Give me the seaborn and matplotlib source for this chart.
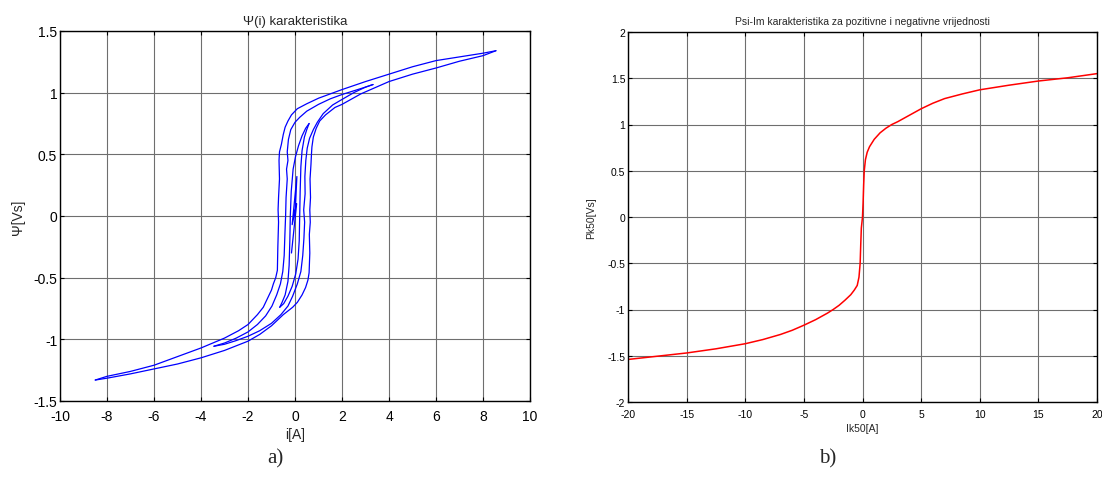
import numpy as np
import pandas as pd
import matplotlib
matplotlib.use("Agg")
import matplotlib.pyplot as plt
import seaborn as sns

# --- DATA: hysteresis loops (left panel) ---
# major loop, descending branch (upper/left)
major_desc_i = [8.55, 8.0, 7.0, 6.0, 5.0, 4.0, 3.0, 2.0, 1.5, 1.0, 0.5, 0.1, -0.15, -0.3, -0.42,
                -0.5, -0.58, -0.66, -0.68, -0.66, -0.70, -0.72, -0.70, -0.73, -0.75, -0.82, -0.92,
                -1.0, -1.15, -1.35, -1.6, -2.0, -2.4, -3.0, -4.0, -5.0, -6.0, -7.0, -8.0, -8.5]
major_desc_psi = [1.34, 1.32, 1.29, 1.26, 1.21, 1.15, 1.09, 1.025, 0.99, 0.955, 0.91, 0.87, 0.82,
                  0.77, 0.72, 0.66, 0.58, 0.52, 0.45, 0.30, 0.15, 0.05, -0.05, -0.25, -0.44, -0.50,
                  -0.55, -0.60, -0.66, -0.74, -0.80, -0.88, -0.93, -0.99, -1.07, -1.14, -1.21,
                  -1.26, -1.30, -1.33]
# major loop, ascending branch (lower/right)
major_asc_i = [-8.5, -8.0, -7.0, -6.0, -5.0, -4.0, -3.0, -2.0, -1.5, -1.0, -0.5, -0.1, 0.1, 0.3,
               0.45, 0.55, 0.6, 0.63, 0.61, 0.65, 0.63, 0.66, 0.64, 0.68, 0.70, 0.72, 0.78, 0.90,
               1.05, 1.3, 1.7, 2.0, 2.8, 4.0, 5.0, 6.0, 7.0, 8.0, 8.55]
major_asc_psi = [-1.33, -1.315, -1.28, -1.24, -1.20, -1.15, -1.09, -1.015, -0.96, -0.89, -0.80,
                 -0.74, -0.70, -0.64, -0.58, -0.52, -0.46, -0.30, -0.15, -0.05, 0.05, 0.15, 0.30,
                 0.42, 0.50, 0.56, 0.64, 0.71, 0.77, 0.82, 0.88, 0.905, 0.99, 1.09, 1.15, 1.20,
                 1.255, 1.30, 1.34]
# middle loop
mid_desc_i = [3.32, 3.0, 2.5, 2.0, 1.5, 1.0, 0.5, 0.2, 0.0, -0.18, -0.28, -0.33, -0.30, -0.36,
              -0.33, -0.38, -0.40, -0.43, -0.46, -0.52, -0.62, -0.78, -0.98, -1.25, -1.6, -2.0,
              -2.5, -3.0, -3.45]
mid_desc_psi = [1.066, 1.045, 1.015, 0.985, 0.95, 0.905, 0.85, 0.80, 0.76, 0.70, 0.62, 0.52,
                0.45, 0.38, 0.30, 0.15, 0.0, -0.15, -0.32, -0.45, -0.55, -0.64, -0.73, -0.81,
                -0.88, -0.94, -0.99, -1.03, -1.056]
mid_asc_i = [-3.45, -3.0, -2.5, -2.0, -1.5, -1.0, -0.6, -0.3, -0.1, 0.1, 0.25, 0.33, 0.38, 0.41,
             0.37, 0.43, 0.42, 0.46, 0.52, 0.62, 0.78, 0.95, 1.2, 1.6, 2.0, 2.5, 3.0, 3.32]
mid_asc_psi = [-1.056, -1.04, -1.01, -0.975, -0.93, -0.87, -0.80, -0.73, -0.65, -0.55, -0.45,
               -0.32, -0.18, -0.05, 0.05, 0.18, 0.32, 0.45, 0.55, 0.63, 0.70, 0.76, 0.83, 0.90,
               0.945, 1.0, 1.045, 1.066]
# inner loop
inner_desc_i = [0.6, 0.45, 0.3, 0.15, 0.02, -0.08, -0.16, -0.2, -0.22, -0.25, -0.3, -0.42, -0.55, -0.65]
inner_desc_psi = [0.75, 0.71, 0.65, 0.57, 0.48, 0.38, 0.2, 0.0, -0.2, -0.4, -0.53, -0.64, -0.70, -0.74]
inner_asc_i = [-0.65, -0.48, -0.3, -0.12, 0.03, 0.13, 0.18, 0.2, 0.22, 0.25, 0.3, 0.4, 0.5, 0.6]
inner_asc_psi = [-0.74, -0.71, -0.65, -0.57, -0.47, -0.35, -0.2, 0.0, 0.2, 0.4, 0.53, 0.64, 0.70, 0.75]
# small spike in the middle
spike_i = [0.0, 0.08, -0.12, 0.07, -0.15]
spike_psi = [0.0, 0.32, -0.07, 0.10, -0.30]

# --- DATA: Psi-Im characteristic (right panel) ---
ik50 = [-20, -17.5, -15, -12.5, -10, -8.5, -7, -6, -5, -4, -3, -2.5, -2, -1.5, -1.0, -0.7, -0.45,
        -0.3, -0.2, -0.15, -0.1, 0.0, 0.05, 0.1, 0.15, 0.25, 0.4, 0.6, 1.0, 1.5, 2.0, 2.5, 3.0,
        4.0, 5.0, 6.0, 7.0, 8.5, 10, 12.5, 15, 17.5, 20]
pk50 = [-1.54, -1.505, -1.47, -1.425, -1.37, -1.325, -1.27, -1.225, -1.17, -1.11, -1.04, -1.0,
        -0.955, -0.9, -0.84, -0.79, -0.74, -0.65, -0.5, -0.3, -0.12, 0.0, 0.15, 0.35, 0.5, 0.62,
        0.7, 0.76, 0.84, 0.91, 0.96, 1.0, 1.03, 1.1, 1.17, 1.23, 1.28, 1.33, 1.375, 1.425, 1.47,
        1.505, 1.55]

# --- STYLE ---
sns.set_style("ticks")
plt.rcParams['font.family'] = ['Liberation Sans', 'DejaVu Sans']
plt.rcParams['axes.unicode_minus'] = False

def make_loops():
    parts = [
        (major_desc_i, major_desc_psi, 'major_desc'),
        (major_asc_i, major_asc_psi, 'major_asc'),
        (mid_desc_i, mid_desc_psi, 'mid_desc'),
        (mid_asc_i, mid_asc_psi, 'mid_asc'),
        (inner_desc_i, inner_desc_psi, 'inner_desc'),
        (inner_asc_i, inner_asc_psi, 'inner_asc'),
        (spike_i, spike_psi, 'spike'),
    ]
    frames = []
    for xs, ys, name in parts:
        frames.append(pd.DataFrame({'i': xs, 'psi': ys, 'branch': name}))
    return pd.concat(frames, ignore_index=True)


def style_axes(ax, xt, yt, size, xpad):
    ax.set_xticks(xt)
    ax.set_yticks(yt)
    ax.set_xticklabels([f"{v:g}" for v in xt])
    ax.set_yticklabels([f"{v:g}" for v in yt])
    ax.tick_params(direction='in', top=True, right=True, length=3, width=0.8,
                   labelsize=size, colors='black', pad=2)
    ax.tick_params(axis='x', pad=xpad)
    ax.grid(True, color='#6e6e6e', linewidth=0.8)
    ax.set_axisbelow(True)
    for s in ax.spines.values():
        s.set_visible(True)
        s.set_color('black')
        s.set_linewidth(1.0)


fig = plt.figure(figsize=(11.02, 4.81), dpi=100)

# left panel
ax1 = fig.add_axes([60 / 1102, 79 / 481, 470 / 1102, 370 / 481])
loops = make_loops()
sns.lineplot(data=loops, x='i', y='psi', units='branch', estimator=None, sort=False,
             color='#0000ff', linewidth=0.9, ax=ax1)
ax1.set_xlim(-10, 10)
ax1.set_ylim(-1.5, 1.5)
style_axes(ax1, np.arange(-10, 11, 2), np.arange(-1.5, 1.51, 0.5), 10, 6)
ax1.set_title('Ψ(i) karakteristika', fontsize=9.5, pad=5)
ax1.set_xlabel('i[A]', fontsize=10, labelpad=3)
ax1.set_ylabel('Ψ[Vs]', fontsize=10, labelpad=6)

# right panel
ax2 = fig.add_axes([628 / 1102, 78 / 481, 469 / 1102, 370 / 481])
curve = pd.DataFrame({'Ik50': ik50, 'Pk50': pk50})
sns.lineplot(data=curve, x='Ik50', y='Pk50', sort=False, color='#ff0000', linewidth=1.1, ax=ax2)
ax2.set_xlim(-20, 20)
ax2.set_ylim(-2, 2)
style_axes(ax2, np.arange(-20, 21, 5), np.arange(-2, 2.01, 0.5), 7.5, 5)
ax2.set_title('Psi-Im karakteristika za pozitivne i negativne vrijednosti', fontsize=7.5, pad=6)
ax2.set_xlabel('Ik50[A]', fontsize=7.5, labelpad=3)
ax2.set_ylabel('Pk50[Vs]', fontsize=7.5, labelpad=8)

fig.text(275 / 1102, 0.025, 'a)', fontsize=15, family=['Liberation Serif', 'DejaVu Serif'],
         ha='center', va='bottom')
fig.text(828 / 1102, 0.025, 'b)', fontsize=15, family=['Liberation Serif', 'DejaVu Serif'],
         ha='center', va='bottom')

fig.savefig('out.png', dpi=100)
